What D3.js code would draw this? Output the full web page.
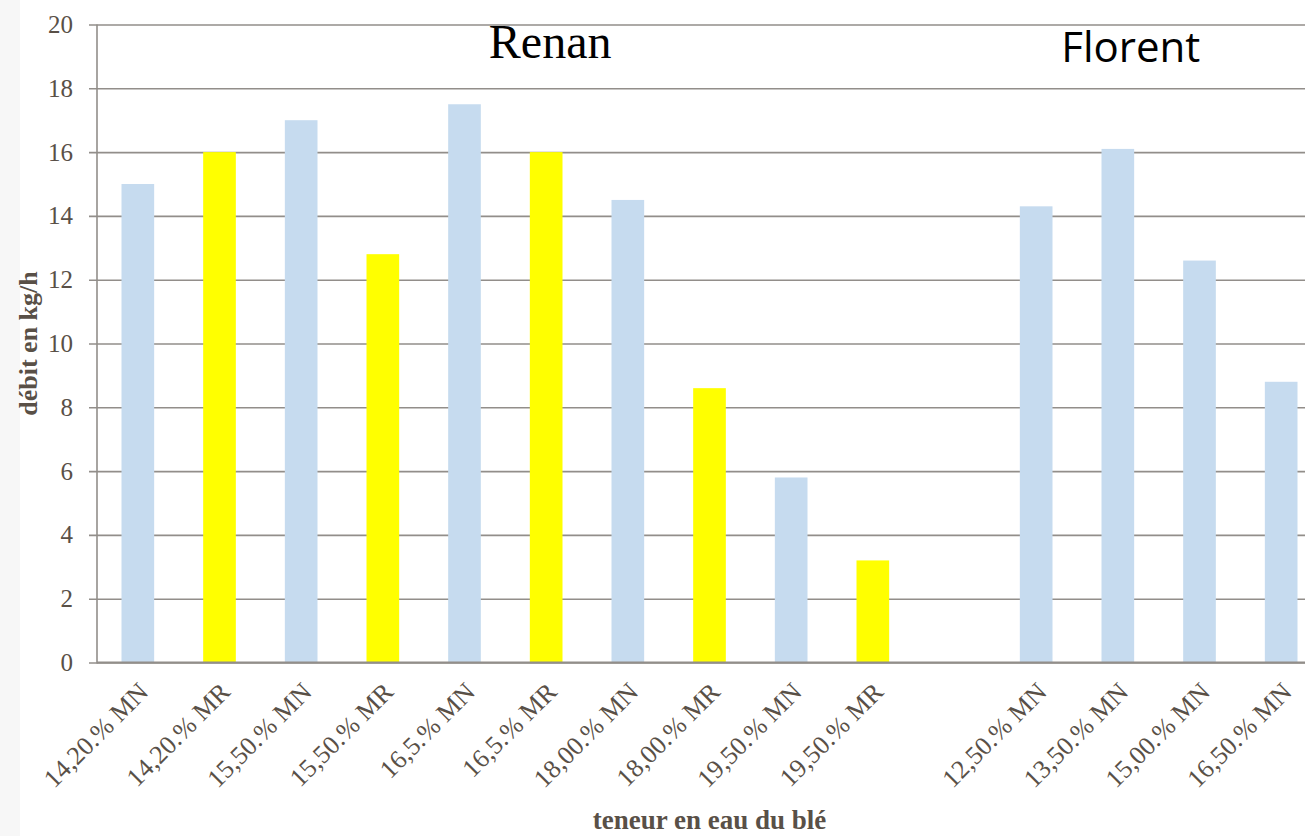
<!DOCTYPE html>
<html>
<head>
<meta charset="utf-8">
<script src="https://cdn.jsdelivr.net/npm/d3@7"></script>
<style>
  html, body { margin: 0; padding: 0; background: #fff; }
  svg { display: block; }
</style>
</head>
<body>
<svg id="chart" width="1305" height="836"></svg>
<script>
// Débit de la machine selon la teneur en eau du blé (Renan puis Florent)
const categories = [
  "14,20.% MN", "14,20.% MR", "15,50.% MN", "15,50.% MR", "16,5.% MN",
  "16,5.% MR", "18,00.% MN", "18,00.% MR", "19,50.% MN", "19,50.% MR",
  "",
  "12,50.% MN", "13,50.% MN", "15,00.% MN", "16,50.% MN"
];
const values = [15.0, 16.0, 17.0, 12.8, 17.5, 16.0, 14.5, 8.6, 5.8, 3.2, null, 14.3, 16.1, 12.6, 8.8];
const kinds = ["MN", "MR", "MN", "MR", "MN", "MR", "MN", "MR", "MN", "MR", "", "MN", "MN", "MN", "MN"];
const yTicks = [0, 2, 4, 6, 8, 10, 12, 14, 16, 18, 20];
const groupNames = ["Renan", "Florent"];

const colors = { MN: "#c6dbef", MR: "#ffff00" };
const ink = "#595047";
const gridColor = "#928e8a";
const serif = "'Liberation Serif', 'Times New Roman', serif";

const svg = d3.select("#chart");
const margin = { left: 97, top: 24.5, bottom: 662.5 };
const plotRight = 1322;

// faint strip on the far left
svg.append("rect").attr("x", 0).attr("y", 0).attr("width", 20).attr("height", 836).attr("fill", "#f7f7f7");

const x = d3.scaleBand()
  .domain(d3.range(categories.length))
  .range([margin.left, plotRight])
  .paddingInner(0.6)
  .paddingOuter(0.3);
const cx = i => x(i) + x.bandwidth() / 2;

const y = d3.scaleLinear().domain([0, 20]).range([margin.bottom, margin.top]);

// horizontal gridlines with outward tick marks
const yAxis = d3.axisLeft(y).tickValues(yTicks).tickSize(-(plotRight - margin.left)).tickSizeOuter(0);
const gy = svg.append("g").attr("transform", `translate(${margin.left},0)`).call(yAxis);
gy.select(".domain").remove();
gy.selectAll(".tick line")
  .attr("x1", -8)
  .attr("stroke", gridColor)
  .attr("stroke-width", 1.6);
gy.selectAll(".tick text")
  .attr("fill", ink)
  .attr("font-family", serif)
  .attr("font-size", 25)
  .attr("x", -24);

// vertical axis line
svg.append("line")
  .attr("x1", margin.left).attr("x2", margin.left)
  .attr("y1", margin.top).attr("y2", margin.bottom + 1)
  .attr("stroke", gridColor).attr("stroke-width", 1.6);

// bars
svg.append("g").selectAll("rect")
  .data(values.map((v, i) => ({ v, i })).filter(d => d.v !== null))
  .join("rect")
  .attr("x", d => x(d.i))
  .attr("width", x.bandwidth())
  .attr("y", d => y(d.v))
  .attr("height", d => y(0) - y(d.v))
  .attr("fill", d => colors[kinds[d.i]]);

// baseline
svg.append("line")
  .attr("x1", margin.left).attr("x2", plotRight)
  .attr("y1", y(0)).attr("y2", y(0))
  .attr("stroke", gridColor).attr("stroke-width", 2.2);

// category labels, slanted
svg.append("g").selectAll("text")
  .data(categories.map((c, i) => ({ c, i })).filter(d => d.c))
  .join("text")
  .attr("transform", d => `translate(${cx(d.i) + 12},${y(0) + 31}) rotate(-45)`)
  .attr("text-anchor", "end")
  .attr("fill", ink)
  .attr("font-family", serif)
  .attr("font-size", 26)
  .text(d => d.c);

// variety names above each group
svg.append("text")
  .attr("x", cx(5) + 4)
  .attr("y", 58)
  .attr("text-anchor", "middle")
  .attr("font-family", serif)
  .attr("font-size", 48)
  .attr("fill", "#000")
  .text(groupNames[0]);
svg.append("text")
  .attr("x", cx(12) + 13)
  .attr("y", 62)
  .attr("text-anchor", "middle")
  .attr("font-family", "'Open Sans', 'Liberation Sans', sans-serif")
  .attr("font-size", 42)
  .attr("fill", "#000")
  .text(groupNames[1]);

// axis titles
svg.append("text")
  .attr("x", (margin.left + plotRight) / 2)
  .attr("y", 829)
  .attr("text-anchor", "middle")
  .attr("font-family", serif)
  .attr("font-weight", "bold")
  .attr("font-size", 27)
  .attr("fill", ink)
  .text("teneur en eau du blé");

svg.append("text")
  .attr("transform", `translate(37,${(margin.top + margin.bottom) / 2}) rotate(-90)`)
  .attr("text-anchor", "middle")
  .attr("font-family", serif)
  .attr("font-weight", "bold")
  .attr("font-size", 26)
  .attr("fill", ink)
  .text("débit en kg/h");
</script>
</body>
</html>
